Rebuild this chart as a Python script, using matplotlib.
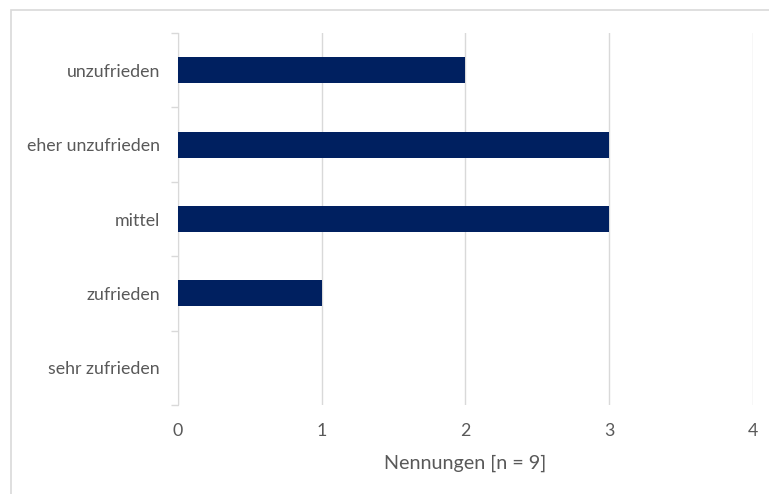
import matplotlib
matplotlib.use('Agg')
import matplotlib.pyplot as plt
from matplotlib.patches import Rectangle

categories = ['sehr zufrieden', 'zufrieden', 'mittel', 'eher unzufrieden', 'unzufrieden']
counts = [0, 1, 3, 3, 2]
x_ticks = [0, 1, 2, 3, 4]
x_label = 'Nennungen [n = 9]'

plt.rcParams['font.family'] = ['Lato', 'DejaVu Sans']

fig = plt.figure(figsize=(7.69, 4.94), dpi=100)
ax = fig.add_axes([178 / 769, 1 - 405 / 494, (753 - 178) / 769, (405 - 33) / 494])

# outer chart frame (right and bottom edges run off the picture)
fig.patches.append(Rectangle((11 / 769, -0.1), 1.2, 1 - 10 / 494 + 0.1,
                             transform=fig.transFigure, fill=False,
                             edgecolor='#d9d9d9', linewidth=1.2))

ax.barh(range(len(categories)), counts, height=0.35, color='#002060', zorder=3)

ax.set_xlim(0, 4)
ax.set_ylim(-0.5, len(categories) - 0.5)
ax.set_xticks(x_ticks)
ax.set_yticks(range(len(categories)))
ax.set_yticklabels(categories)

# category tick marks sit between the labels
ax.set_yticks([i - 0.5 for i in range(len(categories) + 1)], minor=True)
ax.tick_params(axis='y', which='major', length=0, pad=13)
ax.tick_params(axis='y', which='minor', length=5, color='#d9d9d9', width=1)
ax.tick_params(axis='x', length=0, pad=13)
ax.tick_params(labelsize=12.8, labelcolor='#595959')

ax.grid(axis='x', color='#d9d9d9', linewidth=1, zorder=0)
for s in ['top', 'right', 'bottom']:
    ax.spines[s].set_visible(False)
ax.spines['left'].set_color('#d9d9d9')

ax.set_xlabel(x_label, fontsize=14.2, color='#595959', labelpad=11)

fig.savefig('out.png', dpi=100)
